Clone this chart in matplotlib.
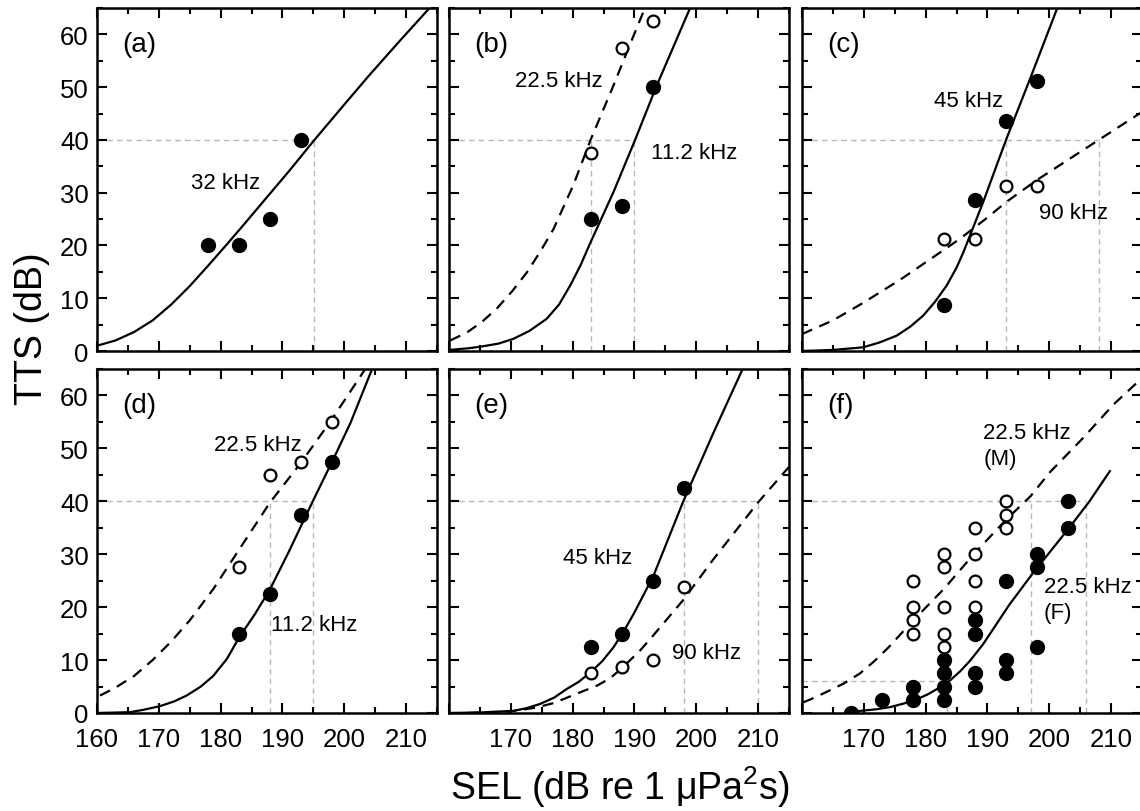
import matplotlib
matplotlib.use('Agg')
import matplotlib.pyplot as plt
from matplotlib.ticker import MultipleLocator

plt.rcParams['font.family'] = ['Liberation Sans', 'DejaVu Sans']
plt.rcParams['mathtext.fontset'] = 'custom'
plt.rcParams['mathtext.rm'] = 'Liberation Sans'
plt.rcParams['mathtext.it'] = 'Liberation Sans:italic'

# (a) 32 kHz
a_sel = [178, 183, 188, 193]
a_tts = [20, 20, 25, 40]
a_fit_x = [160, 163, 166, 169, 172, 175, 178, 181, 184, 187.6, 191, 195.1, 200, 204, 209, 213.8]
a_fit_y = [1.0, 2.0, 3.6, 5.8, 8.8, 12.3, 16.2, 20.2, 24.3, 29.3, 34.0, 39.9, 46.7, 52.2, 58.8, 65]
a_ref = [195.1]

# (b) 11.2 kHz (filled, solid) and 22.5 kHz (open, dashed)
b_sel_112 = [183, 188, 193]
b_tts_112 = [25, 27.5, 50]
b_sel_225 = [183, 188, 193]
b_tts_225 = [37.5, 57.5, 62.5]
b_fit112_x = [160, 163, 165, 168, 170.4, 173, 175.8, 177.8, 179.6, 181.3, 182.9, 186.6, 190.1, 193.6, 199]
b_fit112_y = [0.2, 0.5, 0.8, 1.4, 2.3, 3.8, 6.1, 8.8, 12.4, 16.3, 20.6, 30.1, 40, 50.3, 65]
b_fit225_x = [160.2, 162.9, 165.3, 167.7, 170.2, 172.6, 174.8, 176.9, 180.1, 182.9, 186.6, 189, 191.7]
b_fit225_y = [2.0, 3.5, 5.5, 8.0, 11.3, 14.9, 18.9, 23.1, 31.4, 40, 50.3, 57.3, 65]
b_ref = [183, 190]

# (c) 45 kHz (filled, solid) and 90 kHz (open, dashed)
c_sel_45 = [183, 188, 193, 198]
c_tts_45 = [8.7, 28.7, 43.6, 51.2]
c_sel_90 = [183, 188, 193, 198]
c_tts_90 = [21.3, 21.3, 31.2, 31.2]
c_fit45_x = [160, 165, 169.9, 172.5, 175.3, 177.5, 179.6, 181.5, 183.4, 185, 186.1, 189.3, 193, 196.9, 201.3]
c_fit45_y = [0, 0.2, 0.7, 1.6, 2.9, 4.6, 6.7, 9.3, 12.4, 15.8, 18.7, 28.2, 40, 51.6, 65]
c_fit90_x = [160, 165, 170, 176, 181, 185.6, 190, 193, 198, 203, 208, 215]
c_fit90_y = [3.2, 5.8, 9.2, 13.6, 17.6, 21.3, 25.3, 28.2, 32.4, 36.2, 40, 45.3]
c_ref = [193, 208]

# (d) 11.2 kHz (filled, solid) and 22.5 kHz (open, dashed)
d_sel_112 = [183, 188, 193, 198]
d_tts_112 = [15, 22.5, 37.5, 47.5]
d_sel_225 = [183, 188, 193, 198]
d_tts_225 = [27.5, 45, 47.5, 55]
d_fit112_x = [160, 165.3, 167.5, 170.2, 172.5, 174.5, 176.8, 178.8, 181, 183, 185.5, 188, 191,
              194.9, 198.2, 201, 204.5]
d_fit112_y = [0, 0.15, 0.6, 1.3, 2.2, 3.3, 5.0, 7.0, 10.2, 14.3, 18.6, 23.4, 30.4,
              40, 47.9, 54.8, 65]
d_fit225_x = [160.5, 163, 166, 169, 172, 175, 178.8, 183, 188, 193, 198, 203, 203.4]
d_fit225_y = [3.3, 4.8, 7.0, 10.0, 13.5, 17.5, 23.4, 30.9, 39.8, 47.3, 55.5, 64.3, 65]
d_ref = [188, 194.9]

# (e) 45 kHz (filled, solid) and 90 kHz (open, dashed)
e_sel_45 = [183, 188, 193, 198]
e_tts_45 = [12.5, 15, 25, 42.5]
e_sel_90 = [183, 188, 193, 198]
e_tts_90 = [7.5, 8.75, 10, 23.75]
e_fit45_x = [160, 165, 170.4, 172.5, 174.7, 177, 179, 181, 182.9, 184.8, 186.6, 188.3, 190,
             193.1, 197.9, 202.8, 207.5]
e_fit45_y = [0, 0.1, 0.4, 0.9, 1.7, 2.9, 4.5, 5.9, 7.7, 9.8, 12.4, 15.5, 19,
             26, 40, 53, 65]
e_fit90_x = [163, 170, 174, 177, 181.2, 184, 186.1, 188, 190.9, 193, 198, 202.8, 210, 215]
e_fit90_y = [0, 0.3, 1.0, 1.9, 3.9, 5.2, 6.6, 8.5, 11.8, 14.6, 21.5, 29.1, 39.8, 46.5]
e_ref = [198, 210]

# (f) 22.5 kHz, males (open, dashed) and females (filled, solid)
f_sel_m = [178, 178, 178, 178, 183, 183, 183, 183, 183, 188, 188, 188, 188, 193, 193, 193]
f_tts_m = [25, 20, 17.5, 15, 30, 27.5, 20, 15, 12.5, 35, 30, 25, 20, 40, 37.5, 35]
f_sel_f = [168, 173, 178, 178, 183, 183, 183, 183, 188, 188, 188, 188,
           193, 193, 193, 198, 198, 198, 203, 203]
f_tts_f = [0, 2.5, 5, 2.5, 10, 7.5, 5, 2.5, 17.5, 15, 7.5, 5,
           25, 10, 7.5, 30, 27.5, 12.5, 40, 35]
f_fitm_x = [160.2, 162, 164, 166.8, 169.4, 171.7, 174, 178, 183, 188, 193, 197, 200.1,
            205.5, 210.4, 215]
f_fitm_y = [2.0, 2.9, 4.0, 5.6, 7.5, 9.8, 12.4, 17.5, 23.5, 30.3, 36.5, 41.0, 45.5,
            52.0, 58.3, 63.3]
f_fitf_x = [167, 169.4, 172, 174.2, 176.5, 178.6, 180.3, 181.8, 183.9, 185.6, 187.2, 189.3,
            191.4, 193.5, 197.4, 203.1, 206.5, 209.8]
f_fitf_y = [0, 0.4, 0.7, 1.1, 1.8, 2.6, 3.5, 4.5, 6.1, 7.9, 9.9, 13.0,
            16.7, 20.4, 26.5, 34.8, 40, 45.7]
f_ref = [197, 206]
f_ref_low = 6
f_ref_low_x = 183.5

tick_labels = ['160', '170', '180', '190', '200', '210']

fig = plt.figure(figsize=(11.4, 8.12), dpi=100)
lefts = [97 / 1140, 449 / 1140, 802 / 1140]
w = 340 / 1140
rows = [(1 - 352 / 812, 343 / 812), (1 - 714 / 812, 344 / 812)]

GRAY = '#b8b8b8'


def refs(ax, xs, level=40):
    ax.plot([160, max(xs)], [level, level], color=GRAY, lw=1, ls=(0, (4, 3)), zorder=1)
    for x in xs:
        ax.plot([x, x], [0, level], color=GRAY, lw=1, ls=(0, (4, 3)), zorder=1)


def solid(ax, x, y):
    ax.plot(x, y, color='black', lw=1.6, zorder=2)


def dashed(ax, x, y):
    ax.plot(x, y, color='black', lw=1.6, ls=(0, (5, 3.5)), zorder=2)


def filled(ax, x, y):
    ax.plot(x, y, 'o', color='black', ms=10, zorder=4)


def hollow(ax, x, y):
    ax.plot(x, y, 'o', mfc='white', mec='black', mew=1.6, ms=8.5, zorder=4)


axes = []
for r, (b, h) in enumerate(rows):
    for c in range(3):
        ax = fig.add_axes([lefts[c], b, w, h])
        ax.set_xlim(160, 215)
        ax.set_ylim(0, 65)
        ax.xaxis.set_major_locator(MultipleLocator(10))
        ax.xaxis.set_minor_locator(MultipleLocator(5))
        ax.yaxis.set_major_locator(MultipleLocator(10))
        ax.yaxis.set_minor_locator(MultipleLocator(5))
        ax.tick_params(which='both', direction='in', top=True, right=True,
                       width=1.5, labelsize=18.5)
        ax.tick_params(which='major', length=7)
        ax.tick_params(axis='x', which='major', pad=10)
        ax.tick_params(axis='y', which='major', pad=6)
        ax.tick_params(which='minor', length=4)
        for s in ax.spines.values():
            s.set_linewidth(1.8)
        if c > 0:
            ax.set_yticklabels([])
        if r == 0:
            ax.set_xticklabels([])
        else:
            ax.set_xticks([160, 170, 180, 190, 200, 210])
            labs = list(tick_labels)
            if c > 0:
                labs[0] = ''
            ax.set_xticklabels(labs)
        axes.append(ax)

ax_a, ax_b, ax_c, ax_d, ax_e, ax_f = axes
for ax, tag in zip(axes, ['(a)', '(b)', '(c)', '(d)', '(e)', '(f)']):
    ax.text(0.075, 0.895, tag, transform=ax.transAxes, fontsize=20, va='center', ha='left')

fs = 16
# (a)
refs(ax_a, a_ref)
solid(ax_a, a_fit_x, a_fit_y)
filled(ax_a, a_sel, a_tts)
ax_a.text(180.8, 32, '32 kHz', fontsize=fs, ha='center', va='center')

# (b)
refs(ax_b, b_ref)
solid(ax_b, b_fit112_x, b_fit112_y)
dashed(ax_b, b_fit225_x, b_fit225_y)
filled(ax_b, b_sel_112, b_tts_112)
hollow(ax_b, b_sel_225, b_tts_225)
ax_b.text(177.8, 51.3, '22.5 kHz', fontsize=fs, ha='center', va='center')
ax_b.text(199.6, 37.7, '11.2 kHz', fontsize=fs, ha='center', va='center')

# (c)
refs(ax_c, c_ref)
solid(ax_c, c_fit45_x, c_fit45_y)
dashed(ax_c, c_fit90_x, c_fit90_y)
filled(ax_c, c_sel_45, c_tts_45)
hollow(ax_c, c_sel_90, c_tts_90)
ax_c.text(186.9, 47.5, '45 kHz', fontsize=fs, ha='center', va='center')
ax_c.text(203.9, 26.3, '90 kHz', fontsize=fs, ha='center', va='center')

# (d)
refs(ax_d, d_ref)
solid(ax_d, d_fit112_x, d_fit112_y)
dashed(ax_d, d_fit225_x, d_fit225_y)
filled(ax_d, d_sel_112, d_tts_112)
hollow(ax_d, d_sel_225, d_tts_225)
ax_d.text(186.1, 50.8, '22.5 kHz', fontsize=fs, ha='center', va='center')
ax_d.text(195.1, 16.8, '11.2 kHz', fontsize=fs, ha='center', va='center')

# (e)
refs(ax_e, e_ref)
solid(ax_e, e_fit45_x, e_fit45_y)
dashed(ax_e, e_fit90_x, e_fit90_y)
filled(ax_e, e_sel_45, e_tts_45)
hollow(ax_e, e_sel_90, e_tts_90)
ax_e.text(184, 29.4, '45 kHz', fontsize=fs, ha='center', va='center')
ax_e.text(201.7, 11.4, '90 kHz', fontsize=fs, ha='center', va='center')

# (f)
refs(ax_f, f_ref)
refs(ax_f, [f_ref_low_x], level=f_ref_low)
dashed(ax_f, f_fitm_x, f_fitm_y)
solid(ax_f, f_fitf_x, f_fitf_y)
hollow(ax_f, f_sel_m, f_tts_m)
filled(ax_f, f_sel_f, f_tts_f)
ax_f.text(189.3, 50.6, '22.5 kHz\n(M)', fontsize=fs, ha='left', va='center', linespacing=1.3)
ax_f.text(199.1, 21.5, '22.5 kHz\n(F)', fontsize=fs, ha='left', va='center', linespacing=1.3)

fig.text(0.028, 0.595, 'TTS (dB)', rotation=90, ha='center', va='center', fontsize=27)
fig.text(0.544, 0.03, 'SEL (dB re 1 μPa$^2$s)', ha='center', va='center', fontsize=27)

fig.savefig('out.png', dpi=100)
